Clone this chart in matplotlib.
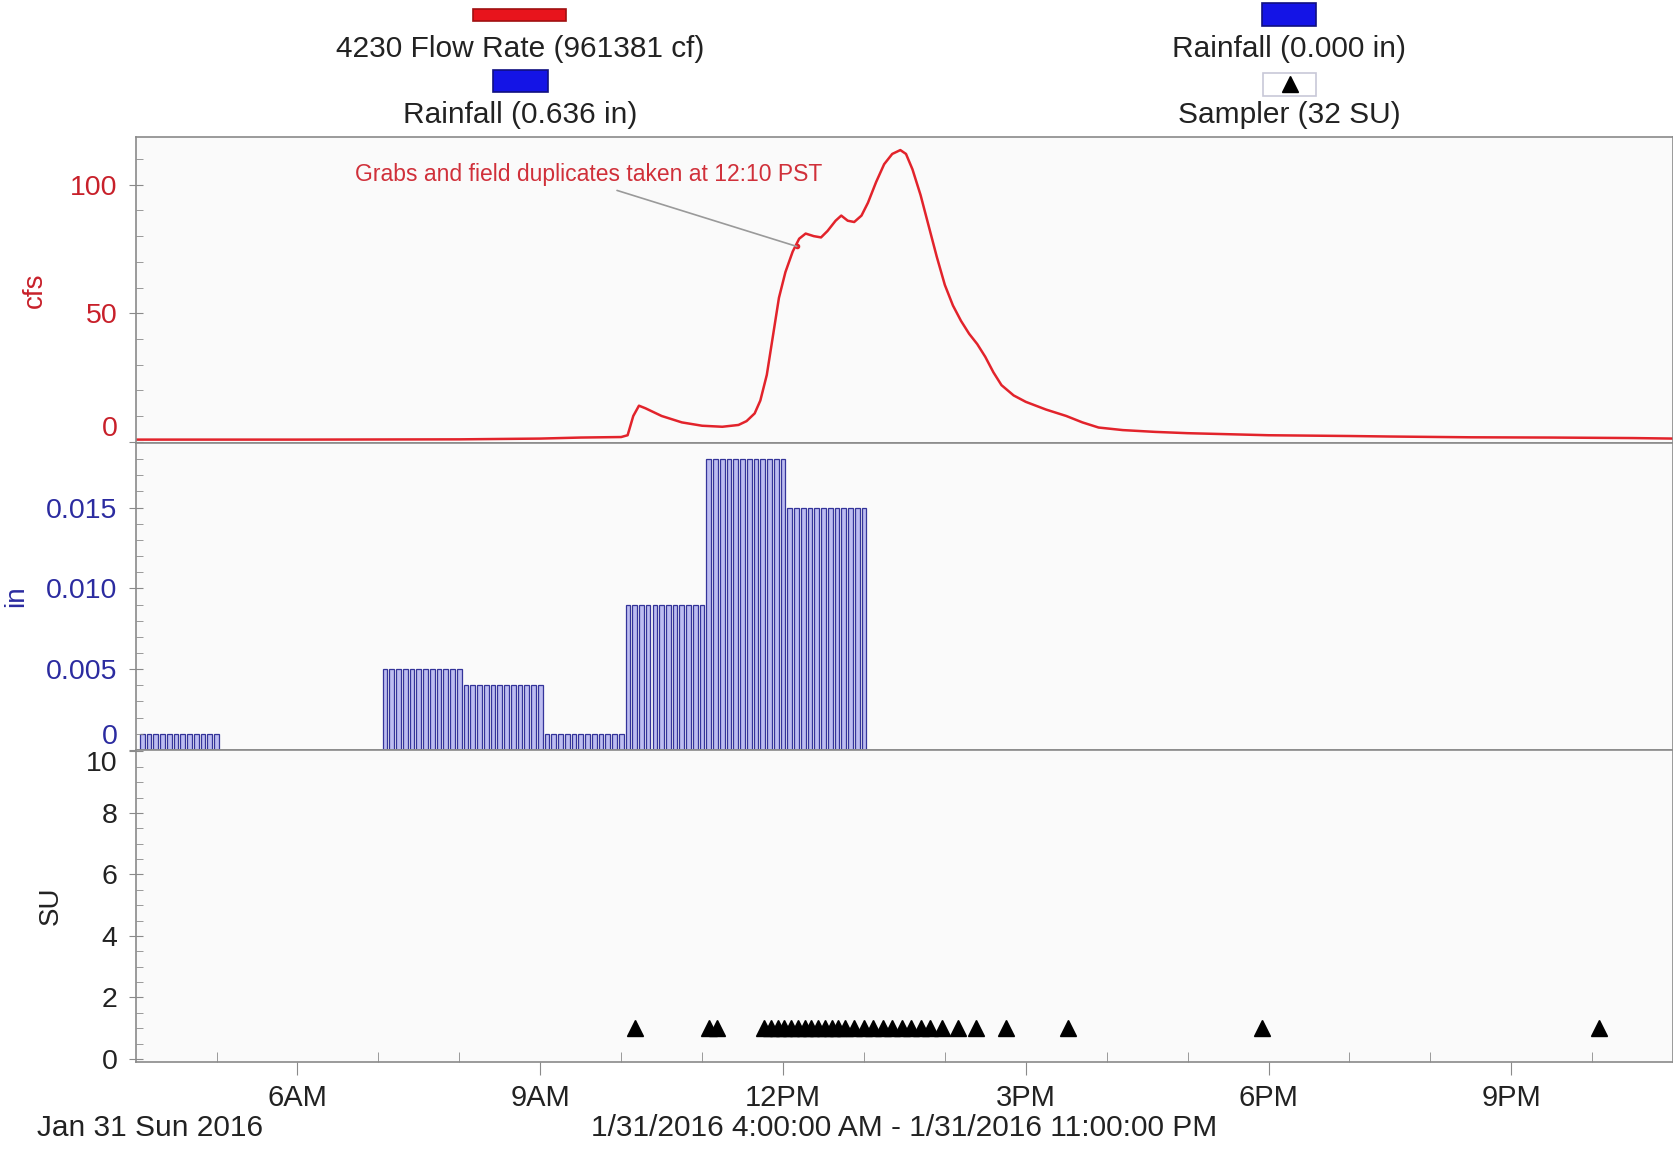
import numpy as np
import matplotlib
matplotlib.use("Agg")
import matplotlib.pyplot as plt
from matplotlib.patches import Rectangle
from matplotlib.lines import Line2D

plt.rcParams['font.family'] = ['Liberation Sans', 'DejaVu Sans']

# flow rate, site 4230 (hour of day, cfs)
flow_hours = [4.0, 6.0, 8.0, 9.0, 9.5, 10.0, 10.08, 10.15, 10.22, 10.3, 10.5, 10.75,
              11.0, 11.25, 11.45, 11.55, 11.65, 11.72, 11.8, 11.88, 11.95, 12.03,
              12.12, 12.2, 12.28, 12.38, 12.47, 12.55, 12.65, 12.72, 12.8, 12.88,
              12.97, 13.05, 13.15, 13.25, 13.35, 13.45, 13.52, 13.6, 13.7, 13.8,
              13.9, 14.0, 14.1, 14.2, 14.3, 14.4, 14.5, 14.6, 14.7, 14.85, 15.0,
              15.25, 15.5, 15.7, 15.9, 16.2, 16.6, 17.0, 17.5, 18.0, 19.0, 19.5,
              20.5, 21.5, 22.5, 23.0]
flow_cfs = [0.8, 0.8, 0.9, 1.2, 1.6, 1.8, 2.5, 10, 14, 13, 10, 7.5,
            6.2, 5.8, 6.5, 8, 11, 16, 26, 42, 56, 66,
            74, 79, 81, 80, 79.5, 82, 86, 88, 86, 85.5,
            88, 93, 101, 108, 112, 113.5, 112, 106, 96, 84,
            72, 61, 53, 47, 42, 38, 33, 27, 22, 18, 15.5,
            12.5, 10, 7.5, 5.5, 4.5, 3.8, 3.3, 2.9, 2.5, 2.2, 2.0,
            1.7, 1.6, 1.4, 1.2]

# rainfall: depth per 5 minute interval, constant within each hour
rain_hour = [4, 7, 8, 9, 10, 11, 12]
rain_in = [0.001, 0.005, 0.004, 0.001, 0.009, 0.018, 0.015]

# sampler aliquots
sampler_times = ["10:10", "11:05", "11:11",
                 "11:46", "11:51", "11:56", "12:01", "12:06", "12:11", "12:16",
                 "12:21", "12:26", "12:31", "12:36", "12:41", "12:46",
                 "12:53", "13:00", "13:07", "13:14", "13:21", "13:28", "13:35",
                 "13:42", "13:49", "13:58", "14:10",
                 "14:23", "14:45", "15:31", "17:55", "22:05"]
sampler_su = [1] * 32

tick_hours = [6, 9, 12, 15, 18, 21]
tick_labels = ["6AM", "9AM", "12PM", "3PM", "6PM", "9PM"]

red = '#e2232b'
navy = '#2b2ba0'
gray = '#8a8a8a'

fig = plt.figure(figsize=(16.74, 11.52), dpi=100)
ax1 = fig.add_axes([0.081, 0.6155, 0.9185, 0.2656])
ax2 = fig.add_axes([0.081, 0.3490, 0.9185, 0.2665], sharex=ax1)
ax3 = fig.add_axes([0.081, 0.0781, 0.9185, 0.2709], sharex=ax1)

for ax in (ax1, ax2, ax3):
    ax.set_facecolor('#fafafa')
    for s in ax.spines.values():
        s.set_color(gray)
        s.set_linewidth(1.2)
    ax.tick_params(axis='y', which='major', direction='inout', length=10,
                   color=gray, labelsize=20.5, pad=8)
    ax.tick_params(axis='y', which='minor', direction='in', length=5, color=gray)

# flow
ax1.plot(flow_hours, flow_cfs, color=red, lw=1.8, solid_joinstyle='round')
ax1.set_ylim(-0.5, 118.6)
ax1.set_yticks([0, 50, 100])
ax1.set_yticks(np.arange(0, 120, 10), minor=True)
ax1.tick_params(axis='y', labelcolor='#c8202a')
ax1.set_ylabel('cfs', color='#c8202a', fontsize=20)
ax1.yaxis.set_label_coords(-0.057, 0.5)
ax1.annotate('Grabs and field duplicates taken at 12:10 PST', xy=(12.17, 76),
             xytext=(9.6, 104), ha='center', va='center', fontsize=16.5,
             color='#d0303a',
             arrowprops=dict(arrowstyle='-', color='#9a9a9a', lw=1.2,
                             relpos=(0.53, 0.0), shrinkA=4, shrinkB=0))
ax1.plot([12.17], [76], 'o', color=red, ms=3)

# rainfall bars
for h, r in zip(rain_hour, rain_in):
    centers = h + np.arange(1, 13) / 12.0
    ax2.bar(centers, [r] * 12, width=0.7 / 12, color='#bcbcf0',
            edgecolor='#34349a', lw=0.9)
ax2.set_ylim(0, 0.019)
ax2.set_yticks([0, 0.005, 0.010, 0.015])
ax2.set_yticklabels(['0', '0.005', '0.010', '0.015'])
ax2.set_yticks(np.arange(0, 0.019, 0.001), minor=True)
ax2.tick_params(axis='y', labelcolor=navy)
ax2.set_ylabel('in', color=navy, fontsize=20)
ax2.yaxis.set_label_coords(-0.069, 0.5)

# sampler
sh = [int(t.split(':')[0]) + int(t.split(':')[1]) / 60.0 for t in sampler_times]
ax3.plot(sh, sampler_su, linestyle='none', marker='^', color='black', ms=11)
ax3.set_ylim(-0.1, 10.05)
ax3.set_yticks([0, 2, 4, 6, 8, 10])
ax3.set_yticks(np.arange(0, 10.01, 0.5), minor=True)
ax3.tick_params(axis='y', labelcolor='#222222')
ax3.set_ylabel('SU', color='#222222', fontsize=20)
ax3.yaxis.set_label_coords(-0.047, 0.5)

ax3.set_xlim(4, 23)
ax3.set_xticks(tick_hours)
ax3.set_xticklabels(tick_labels)
ax3.set_xticks(range(5, 23), minor=True)
ax3.tick_params(axis='x', which='major', direction='out', length=9, color=gray,
                labelsize=21, labelcolor='#222222', pad=7)
ax3.tick_params(axis='x', which='minor', direction='in', length=7, color=gray)
for ax in (ax1, ax2):
    ax.tick_params(axis='x', which='both', length=0, labelbottom=False)

# keep the zero / top labels at the panel joins apart
fig.canvas.draw()
ax1.get_yticklabels()[0].set_va('bottom')
ax2.get_yticklabels()[0].set_va('bottom')
ax3.get_yticklabels()[-1].set_va('top')

fig.text(37 / 1674, 1 - 1128 / 1152, 'Jan 31 Sun 2016', fontsize=21.5,
         color='#222222', va='center', ha='left')
fig.text(904 / 1674, 1 - 1128 / 1152,
         '1/31/2016 4:00:00 AM - 1/31/2016 11:00:00 PM', fontsize=21.5,
         color='#222222', va='center', ha='center')

# legend at the top
W, H = 1674.0, 1152.0


def box(x0, y0, x1, y1, fc, ec):
    fig.patches.append(Rectangle((x0 / W, 1 - y1 / H), (x1 - x0) / W, (y1 - y0) / H,
                                 transform=fig.transFigure, facecolor=fc,
                                 edgecolor=ec, lw=1.2))


box(473, 9, 566, 21, '#e8141c', '#a01010')
fig.text(520 / W, 1 - 49 / H, '4230 Flow Rate (961381 cf)', fontsize=21.5,
         ha='center', va='center', color='#222222')
box(493, 70, 548, 92, '#1414e6', '#101080')
fig.text(520 / W, 1 - 115 / H, 'Rainfall (0.636 in)', fontsize=21.5,
         ha='center', va='center', color='#222222')

box(1262, 3, 1316, 26, '#1414e6', '#101080')
fig.text(1289 / W, 1 - 49 / H, 'Rainfall (0.000 in)', fontsize=21.5,
         ha='center', va='center', color='#222222')
box(1263, 73, 1316, 96, 'white', '#c8c8d8')
fig.lines.append(Line2D([1290 / W], [1 - 84 / H], transform=fig.transFigure,
                        marker='^', color='black', ms=11, linestyle='none'))
fig.text(1289 / W, 1 - 115 / H, 'Sampler (32 SU)', fontsize=21.5,
         ha='center', va='center', color='#222222')

fig.savefig('out.png', dpi=100)
